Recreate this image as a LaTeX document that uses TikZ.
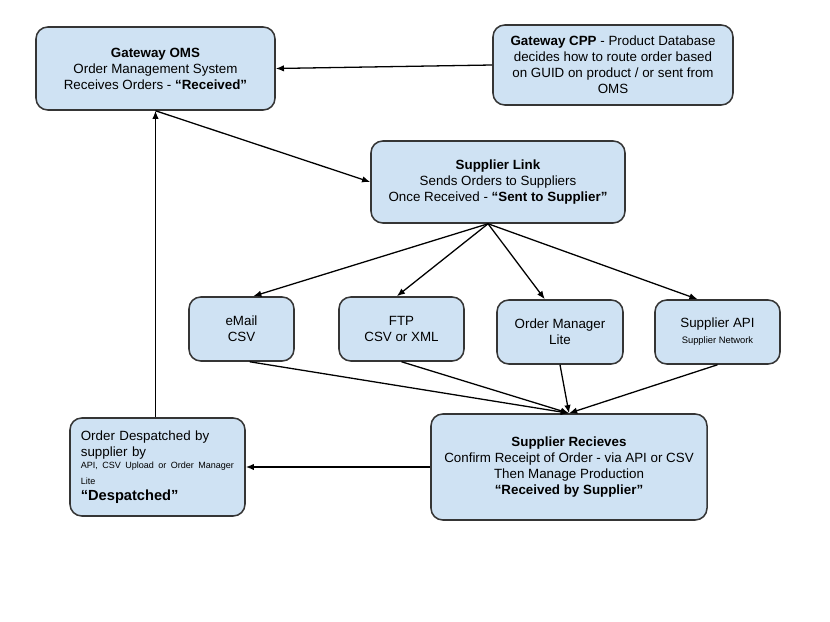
\documentclass[tikz,border=0pt]{standalone}
\usepackage{fontspec}
\setmainfont{Liberation Sans}
\usetikzlibrary{arrows.meta}
\definecolor{boxfill}{HTML}{CFE2F3}
\definecolor{boxline}{HTML}{353535}
\begin{document}
\begin{tikzpicture}[x=0.03cm,y=-0.03cm]
\tikzstyle{every node}+=[font=\fontsize{11.4}{13.6}\selectfont]
\tikzstyle{stage}=[draw=boxline, fill=boxfill, line width=1.3pt, rounded corners=10pt, align=center, inner sep=0pt]
\tikzstyle{flow}=[draw=black, line width=1.1pt, -{Latex[length=7pt,width=5.5pt]}]
\useasboundingbox [fill=white] (0,0) rectangle (830,622);
\node [stage, minimum width=7.17cm, minimum height=2.49cm] (oms) at (155.5,68.5) {\textbf{Gateway OMS}\\Order Management System\\Receives Orders - \textbf{“Received”}};
\node [stage, minimum width=7.2cm, minimum height=2.4cm] (cpp) at (613,65) {\textbf{Gateway CPP} - Product Database\\decides how to route order based\\on GUID on product / or sent from\\OMS};
\node [stage, minimum width=7.62cm, minimum height=2.46cm] (link) at (498,182) {\textbf{Supplier Link}\\Sends Orders to Suppliers\\Once Received - \textbf{“Sent to Supplier”}};
\node [stage, minimum width=3.15cm, minimum height=1.92cm] (email) at (241.5,329) {eMail\\CSV};
\node [stage, minimum width=3.75cm, minimum height=1.92cm] (ftp) at (401.5,329) {FTP\\CSV or XML};
\node [stage, minimum width=3.78cm, minimum height=1.92cm] (oml) at (560,332) {Order Manager\\Lite};
\node [stage, minimum width=3.75cm, minimum height=1.92cm] (api) at (717.5,332) {Supplier API\\{\fontsize{8}{10}\selectfont Supplier Network}};
\node [stage, minimum width=8.28cm, minimum height=3.18cm] (recv) at (569,467) {\textbf{Supplier Recieves}\\Confirm Receipt of Order - via API or CSV\\Then Manage Production\\\textbf{“Received by Supplier”}};
\node [stage, minimum width=5.25cm, minimum height=2.94cm, align=left, text width=4.6cm] (desp) at (157.5,467) {Order Despatched by\\supplier by\\{\fontsize{7.7}{10}\selectfont \mbox{API, CSV Upload or Order Manager}\\Lite}\\{\fontsize{12.5}{15}\selectfont\textbf{“Despatched”}}};
\draw [flow] (cpp.west) -- (oms.east);
\draw [flow] (oms.south) -- (link.west);
\draw [flow] ([xshift=-8.5pt]link.south) -- ([xshift=10pt]email.north);
\draw [flow] ([xshift=-8.5pt]link.south) -- ([xshift=-4pt]ftp.north);
\draw [flow] ([xshift=-8.5pt]link.south) -- ([xshift=-13pt]oml.north);
\draw [flow] ([xshift=-8.5pt]link.south) -- ([xshift=-17pt]api.north);
\draw [flow] ([xshift=7pt]email.south) -- (recv.north);
\draw [flow] (ftp.south) -- (recv.north);
\draw [flow] (oml.south) -- (recv.north);
\draw [flow] (api.south) -- (recv.north);
\draw [flow] (recv.west) -- (desp.east);
\draw [flow] (oms.south |- desp.north) -- (oms.south);
\end{tikzpicture}
\end{document}
